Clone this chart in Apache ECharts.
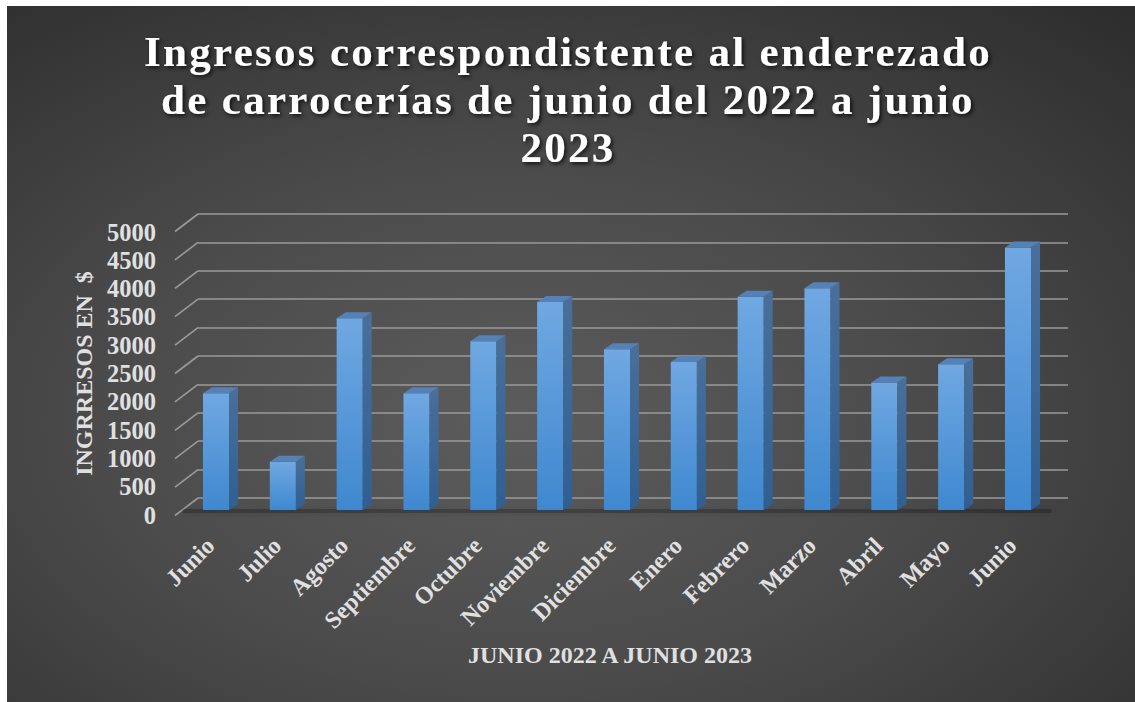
<!DOCTYPE html>
<html><head><meta charset="utf-8">
<script src="https://cdn.jsdelivr.net/npm/echarts@6/dist/echarts.min.js"></script>
<style>
html,body{margin:0;padding:0;background:#fff;}
#c{width:1135px;height:702px;}
svg text{white-space:pre;}
svg text[style*="43px"]{letter-spacing:2.3px;}
</style></head><body><div id="c"></div>
<script>
const titleLines = ['Ingresos correspondistente al enderezado', 'de carrocerías de junio del 2022 a junio', '2023'];
const categories = ['Junio', 'Julio', 'Agosto', 'Septiembre', 'Octubre', 'Noviembre', 'Diciembre', 'Enero', 'Febrero', 'Marzo', 'Abril', 'Mayo', 'Junio'];
const ingresos = [2060, 850, 3380, 2060, 2975, 3670, 2835, 2610, 3760, 3910, 2250, 2570, 4630];
const yTicks = [0, 500, 1000, 1500, 2000, 2500, 3000, 3500, 4000, 4500, 5000];
const yAxisName = 'INGRRESOS EN  $';
const xAxisName = 'JUNIO 2022 A JUNIO 2023';

const SERIF = '"Liberation Serif", "Times New Roman", serif';
const LABEL = '#e0e0e0';
const GRIDC = '#9a9a9a';
const DX = 9, DY = 6;

const chart = echarts.init(document.getElementById('c'), null, {renderer: 'svg'});

const yMin = yTicks[0], yMax = yTicks[yTicks.length - 1], yStep = yTicks[1] - yTicks[0];

const option = {
  backgroundColor: '#ffffff',
  animation: false,
  graphic: [
    {
      type: 'rect', z: -10, silent: true,
      shape: {x: 7, y: 6, width: 1128, height: 696},
      style: {
        fill: new echarts.graphic.RadialGradient(0.45, 0.6, 0.95, [
          {offset: 0, color: '#5c5c5c'},
          {offset: 0.4, color: '#4a4a4a'},
          {offset: 1, color: '#232323'}
        ])
      }
    },
    {
      type: 'text', z: 10,
      style: {
        text: titleLines.join('\n'),
        x: 568, y: 27,
        textAlign: 'center', textVerticalAlign: 'top',
        fontFamily: SERIF, fontWeight: 'bold', fontSize: 43, lineHeight: 48,
        fill: '#ffffff',
        textShadowColor: 'rgba(0,0,0,0.75)', textShadowBlur: 4,
        textShadowOffsetX: 2, textShadowOffsetY: 2
      }
    }
  ],
  grid: [
    {left: 198, right: 67, top: 214, bottom: 204},
    {left: 175, right: 90, top: 232, bottom: 187},
    {left: 182.6, right: 83.6, top: 226.5, bottom: 192}
  ],
  xAxis: [
    {gridIndex: 0, type: 'value', min: 0, max: 1, show: false},
    {gridIndex: 1, type: 'value', min: 0, max: 1, show: false},
    {
      gridIndex: 2, type: 'category', data: categories,
      axisLine: {show: false}, axisTick: {show: false},
      axisLabel: {
        rotate: 45, margin: 26, interval: 0, padding: [0, 8, 0, 0],
        color: LABEL, fontFamily: SERIF, fontWeight: 'bold', fontSize: 24
      },
      name: xAxisName, nameLocation: 'middle', nameGap: 133,
      nameTextStyle: {color: LABEL, fontFamily: SERIF, fontWeight: 'bold', fontSize: 24, padding: [0, 14, 0, 0]}
    }
  ],
  yAxis: [
    {
      gridIndex: 0, type: 'value', min: yMin, max: yMax, interval: yStep,
      axisLine: {show: false}, axisTick: {show: false}, axisLabel: {show: false},
      splitLine: {show: true, lineStyle: {color: GRIDC, width: 1.6}}
    },
    {
      gridIndex: 1, type: 'value', min: yMin, max: yMax, interval: yStep,
      axisLine: {show: false}, axisTick: {show: false}, splitLine: {show: false},
      axisLabel: {margin: 19, color: LABEL, fontFamily: SERIF, fontWeight: 'bold', fontSize: 24.5,
        formatter: v => String(v)},
      name: yAxisName, nameLocation: 'middle', nameRotate: 90, nameGap: 79,
      nameTextStyle: {color: LABEL, fontFamily: SERIF, fontWeight: 'bold', fontSize: 24}
    },
    {gridIndex: 2, type: 'value', min: yMin, max: yMax, show: false}
  ],
  series: [
    {
      type: 'custom', xAxisIndex: 0, yAxisIndex: 0, z: 1, silent: true,
      data: yTicks.map(v => [0, v]),
      renderItem: function (params, api) {
        const p = api.coord([0, api.value(1)]);
        return {
          type: 'line',
          shape: {x1: p[0], y1: p[1], x2: p[0] - 23, y2: p[1] + 17.5},
          style: {stroke: GRIDC, lineWidth: 1.6}
        };
      }
    },
    {
      type: 'custom', xAxisIndex: 2, yAxisIndex: 2, z: 5, silent: true,
      data: ingresos.map((v, i) => [i, v]),
      renderItem: function (params, api) {
        const top = api.coord([api.value(0), api.value(1)]);
        const base = api.coord([api.value(0), 0]);
        const band = api.size([1, 0])[0];
        const bw = band * 0.39;
        const x0 = top[0] - bw / 2, x1 = x0 + bw;
        const ty = top[1], by = base[1];
        return {
          type: 'group',
          children: [
            {
              type: 'rect', z2: 0,
              shape: {x: top[0] - band / 2, y: by - 1, width: band, height: 4},
              style: {fill: 'rgba(0,0,0,0.22)', shadowBlur: 7, shadowColor: 'rgba(0,0,0,0.55)', shadowOffsetY: 1}
            },
            {
              type: 'rect', z2: 10,
              shape: {x: x0, y: ty, width: bw, height: by - ty},
              style: {
                fill: new echarts.graphic.LinearGradient(0, 0, 0, 1, [
                  {offset: 0, color: '#70a8e2'},
                  {offset: 1, color: '#3f88cf'}
                ])
              }
            },
            {
              type: 'polygon', z2: 10,
              shape: {points: [[x1, ty], [x1 + DX, ty - DY], [x1 + DX, by - DY], [x1, by]]},
              style: {
                fill: new echarts.graphic.LinearGradient(0, 0, 0, 1, [
                  {offset: 0, color: '#4a6f9a'},
                  {offset: 1, color: '#2f5f92'}
                ])
              }
            },
            {
              type: 'polygon', z2: 10,
              shape: {points: [[x0, ty], [x0 + DX, ty - DY], [x1 + DX, ty - DY], [x1, ty]]},
              style: {fill: '#5482b8'}
            }
          ]
        };
      }
    }
  ]
};
chart.setOption(option);
</script></body></html>
